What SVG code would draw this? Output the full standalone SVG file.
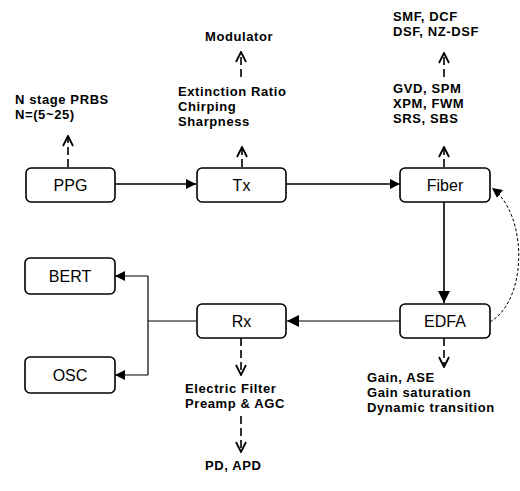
<svg xmlns="http://www.w3.org/2000/svg" width="520" height="491" viewBox="0 0 520 491">
<defs>
<style>
.box{fill:#fff;stroke:#000;stroke-width:1.6}
.lbl{font-family:"Liberation Sans",Arial,sans-serif;font-size:16px;fill:#000;text-anchor:middle}
.note{font-family:"Liberation Sans",Arial,sans-serif;font-size:13px;font-weight:bold;letter-spacing:0.6px;fill:#000}
.solid{fill:none;stroke:#000;stroke-width:1.6}
.thin{fill:none;stroke:#000;stroke-width:1.2}
.dash{fill:none;stroke:#000;stroke-width:1.6;stroke-dasharray:8 4}
.curve{fill:none;stroke:#000;stroke-width:1;stroke-dasharray:3 2}
</style>
<marker id="fa" viewBox="0 0 10 10" refX="10" refY="5" markerWidth="10" markerHeight="10" markerUnits="userSpaceOnUse" orient="auto"><path d="M0,0 L10,5 L0,10 Z" fill="#000"/></marker>
<marker id="fa2" viewBox="0 0 10 10" refX="10" refY="5" markerWidth="12" markerHeight="12" markerUnits="userSpaceOnUse" orient="auto"><path d="M0,0 L10,5 L0,10 Z" fill="#000"/></marker>
<marker id="oa" viewBox="0 0 12 12" refX="11" refY="6" markerWidth="12" markerHeight="12" markerUnits="userSpaceOnUse" orient="auto"><path d="M1,1 L11,6 L1,11" fill="none" stroke="#000" stroke-width="1.8"/></marker>
</defs>
<rect width="520" height="491" fill="#fff"/>
<g id="connectors">
<line class="solid" x1="115" y1="184" x2="196" y2="184" marker-end="url(#fa)"/>
<line class="solid" x1="286" y1="184" x2="400" y2="184" marker-end="url(#fa)"/>
<line class="solid" x1="444" y1="202" x2="444" y2="303" marker-end="url(#fa2)"/>
<line class="thin" x1="400" y1="321" x2="287" y2="321" marker-end="url(#fa2)"/>
<polyline class="thin" points="196,321 148,321"/>
<polyline class="thin" points="148,276 148,375"/>
<line class="thin" x1="148" y1="276" x2="115" y2="276" marker-end="url(#fa)"/>
<line class="thin" x1="148" y1="375" x2="115" y2="375" marker-end="url(#fa)"/>
<path class="curve" d="M490,322 C528,300 528,215 492,188" marker-end="url(#fa)"/>
<line class="dash" x1="68" y1="167" x2="68" y2="136" marker-end="url(#oa)"/>
<line class="dash" x1="242" y1="167" x2="242" y2="147" marker-end="url(#oa)"/>
<line class="dash" x1="241" y1="77" x2="241" y2="52" marker-end="url(#oa)"/>
<line class="dash" x1="444" y1="167" x2="444" y2="147" marker-end="url(#oa)"/>
<line class="dash" x1="444" y1="77" x2="444" y2="53" marker-end="url(#oa)"/>
<line class="dash" x1="241" y1="338" x2="241" y2="375" marker-end="url(#oa)"/>
<line class="dash" x1="241" y1="416" x2="241" y2="452" marker-end="url(#oa)"/>
<line class="dash" x1="444" y1="338" x2="444" y2="367" marker-end="url(#oa)"/>
</g>
<g id="ppg"><rect class="box" x="26" y="168" width="89" height="34" rx="5"/><text class="lbl" x="70.5" y="191">PPG</text></g>
<g id="tx"><rect class="box" x="197" y="168" width="89" height="34" rx="5"/><text class="lbl" x="241.5" y="191">Tx</text></g>
<g id="fiber"><rect class="box" x="400" y="168" width="90" height="34" rx="5"/><text class="lbl" x="445" y="191">Fiber</text></g>
<g id="edfa"><rect class="box" x="400" y="304" width="90" height="34" rx="5"/><text class="lbl" x="445" y="327">EDFA</text></g>
<g id="rx"><rect class="box" x="197" y="304" width="89" height="34" rx="5"/><text class="lbl" x="241.5" y="327">Rx</text></g>
<g id="bert"><rect class="box" x="25" y="258" width="90" height="36" rx="5"/><text class="lbl" x="70" y="282">BERT</text></g>
<g id="osc"><rect class="box" x="25" y="357" width="90" height="36" rx="5"/><text class="lbl" x="70" y="381">OSC</text></g>
<g id="prbs"><text class="note" x="15" y="104">N stage PRBS</text><text class="note" x="15" y="119">N=(5~25)</text></g>
<g id="modulator"><text class="note" x="205" y="41">Modulator</text></g>
<g id="txparams"><text class="note" x="178" y="96">Extinction Ratio</text><text class="note" x="178" y="111">Chirping</text><text class="note" x="178" y="126">Sharpness</text></g>
<g id="fibertypes"><text class="note" x="393" y="21">SMF, DCF</text><text class="note" x="393" y="36">DSF, NZ-DSF</text></g>
<g id="fibereffects"><text class="note" x="393" y="93">GVD, SPM</text><text class="note" x="393" y="108">XPM, FWM</text><text class="note" x="393" y="123">SRS, SBS</text></g>
<g id="rxparams"><text class="note" x="185" y="393">Electric Filter</text><text class="note" x="185" y="408">Preamp &amp; AGC</text></g>
<g id="detector"><text class="note" x="205" y="470">PD, APD</text></g>
<g id="edfaparams"><text class="note" x="367" y="382">Gain, ASE</text><text class="note" x="367" y="397">Gain saturation</text><text class="note" x="367" y="412">Dynamic transition</text></g>
</svg>
